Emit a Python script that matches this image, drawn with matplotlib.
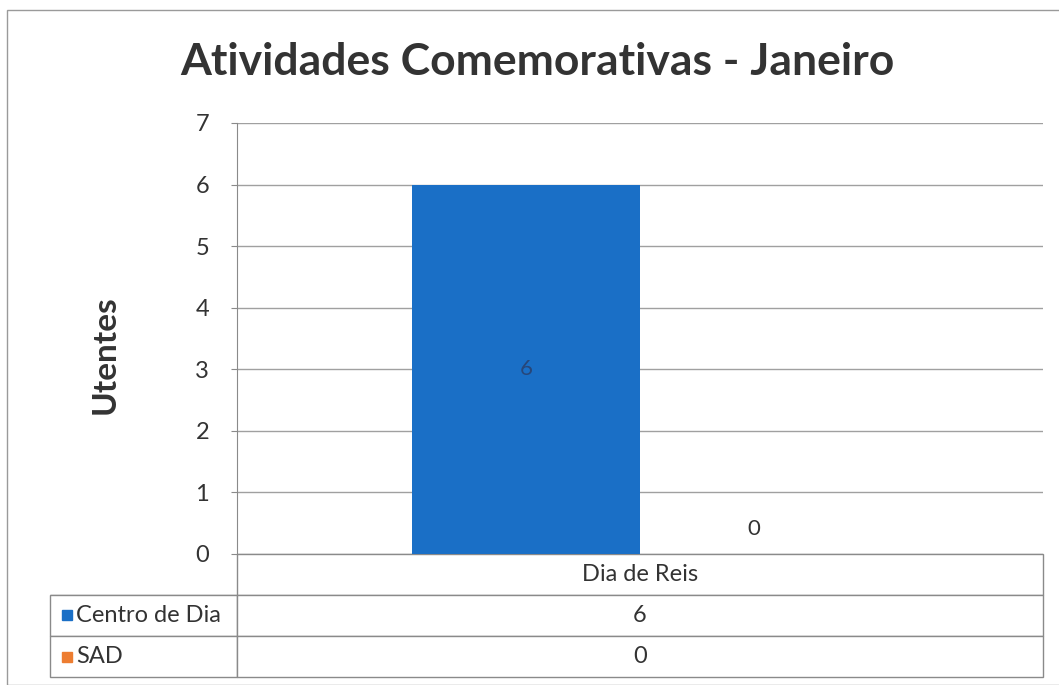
import matplotlib
matplotlib.use("Agg")
import matplotlib.pyplot as plt
from matplotlib.patches import Rectangle

plt.rcParams['font.family'] = ['Lato', 'DejaVu Sans']

# dados
categorias = ["Dia de Reis"]
series = ["Centro de Dia", "SAD"]
valores = [[6], [0]]
cores = ["#1a6fc6", "#ed7d31"]
titulo = "Atividades Comemorativas - Janeiro"

W, H = 1059, 685
fig = plt.figure(figsize=(W / 100, H / 100), dpi=100)

# moldura exterior
fig.patches.append(Rectangle((7 / W, 0), 1.2, 1 - 10 / H, transform=fig.transFigure,
                             fill=False, edgecolor="#9a9a9a", linewidth=1.0))

ax = fig.add_axes([237 / W, 1 - 554 / H, (1043 - 237) / W, (554 - 123) / H])

largura = 0.283
x = list(range(len(categorias)))
for k, (nome, vals) in enumerate(zip(series, valores)):
    desloc = (k - 0.5) * largura
    pos = [xi + desloc for xi in x]
    barras = ax.bar(pos, vals, width=largura, color=cores[k], zorder=3)
    for b, v in zip(barras, vals):
        if v > 0:
            ax.text(b.get_x() + b.get_width() / 2, v / 2, str(v), ha="center", va="center",
                    fontsize=16, color="#27477a", zorder=4)
        else:
            ax.annotate(str(v), (b.get_x() + b.get_width() / 2, v), xytext=(0, 18),
                        textcoords="offset points", ha="center", va="center",
                        fontsize=16, color="#333333")

ax.set_xlim(-0.5, len(categorias) - 0.5)
ax.set_ylim(0, 7)
ax.set_yticks(range(0, 8))
ax.set_xticks([])
ax.grid(axis="y", color="#a0a0a0", linewidth=1.0, zorder=0)
for s in ["top", "right", "bottom"]:
    ax.spines[s].set_visible(False)
ax.spines["left"].set_color("#8a8a8a")
ax.tick_params(axis="y", labelsize=17, labelcolor="#333333", color="#8a8a8a",
               length=4, pad=16)

# tabela de dados: primeira coluna com os nomes das series
larg_rot = 187 / 806
alt_tab = (677 - 554) / 431
linhas = [[s] + [str(v) for v in vals] for s, vals in zip(series, valores)]
tab = ax.table(cellText=linhas,
               colLabels=[""] + categorias,
               colWidths=[larg_rot] + [1.0 / len(categorias)] * len(categorias),
               cellLoc="center",
               bbox=[-larg_rot, -alt_tab, 1 + larg_rot, alt_tab])
tab.auto_set_font_size(False)
for (r, c), cell in tab.get_celld().items():
    cell.set_edgecolor("#8a8a8a")
    cell.set_linewidth(1.0)
    cell.get_text().set_fontsize(17)
    cell.get_text().set_color("#333333")
    if c == 0:
        cell.get_text().set_horizontalalignment("left")
        cell.PAD = 0.14
        if r == 0:
            cell.visible_edges = "B"

# quadrados da legenda na tabela
linhas_y = [615, 657]
for cor, yy in zip(cores, linhas_y):
    fig.patches.append(Rectangle((62 / W, 1 - (yy + 5) / H), 10 / W, 10 / H,
                                 transform=fig.transFigure, color=cor))

fig.text(537 / W, 1 - 62 / H, titulo, ha="center", va="center", fontsize=32,
         fontweight="bold", color="#333333")
fig.text(105 / W, 1 - 355 / H, "Utentes", ha="center", va="center", rotation=90,
         fontsize=24, fontweight="bold", color="#333333")

fig.savefig("out.png", dpi=100)
